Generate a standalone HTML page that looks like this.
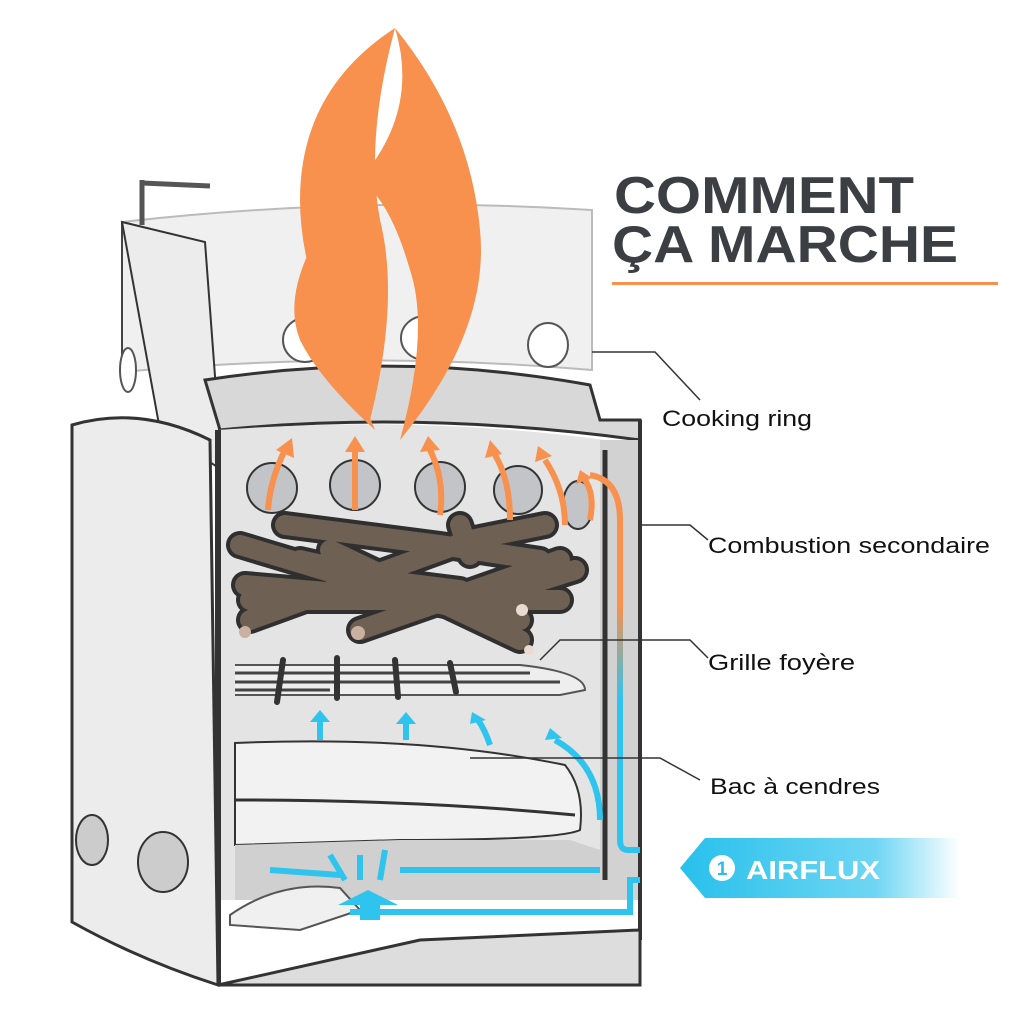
<!DOCTYPE html>
<html><head><meta charset="utf-8"><style>
body{margin:0;background:#fff}
svg{display:block}
text{font-family:"Liberation Sans",sans-serif}
</style></head><body>
<svg width="1024" height="1024" viewBox="0 0 1024 1024">
<defs>
<linearGradient id="af" x1="0" x2="1" y1="0" y2="0">
<stop offset="0" stop-color="#27c0ec"/><stop offset="0.7" stop-color="#6fd6f3"/><stop offset="1" stop-color="#fff"/>
</linearGradient>
<linearGradient id="up" x1="0" x2="0" y1="0" y2="1">
<stop offset="0.35" stop-color="#f7914d"/><stop offset="0.6" stop-color="#2ec4ee"/>
</linearGradient>
</defs>
<!-- cooking ring -->
<path d="M122 222 Q360 195 592 210 L592 370 Q360 350 122 372 Z" fill="#f0f0f0" stroke="#bbb" stroke-width="2"/>
<path d="M122 222 L122 372" stroke="#444" stroke-width="2"/>
<g fill="#fff" stroke="#555" stroke-width="2">
<ellipse cx="173" cy="380" rx="16" ry="28"/><ellipse cx="305" cy="340" rx="22" ry="22"/><ellipse cx="425" cy="338" rx="24" ry="22"/><ellipse cx="548" cy="345" rx="20" ry="22"/><ellipse cx="128" cy="370" rx="8" ry="22"/>
</g>
<path d="M142 180 L142 225 M142 183 L210 186" stroke="#555" stroke-width="5" fill="none"/>
<path d="M122 222 L205 242 L222 470 L160 430 Z" fill="#ececec" stroke="#333" stroke-width="2"/>
<!-- cooking ring lower band -->
<path d="M205 380 Q400 350 590 385 L600 420 L640 420 L640 440 Q420 410 220 430 Z" fill="#d8d8d8" stroke="#333" stroke-width="3"/>
<!-- interior -->
<path d="M218 430 Q420 415 605 440 L605 900 L218 900 Z" fill="#e4e4e4"/>
<path d="M218 430 L218 985" stroke="#333" stroke-width="6"/>
<!-- holes -->
<g fill="#c2c4c8" stroke="#333" stroke-width="2">
<circle cx="272" cy="488" r="25"/><circle cx="355" cy="485" r="25"/><circle cx="440" cy="487" r="25"/><circle cx="518" cy="490" r="24"/><ellipse cx="578" cy="505" rx="15" ry="24"/>
</g>
<!-- right wall -->
<rect x="600" y="440" width="40" height="460" fill="#d2d2d2"/>
<path d="M605 450 L605 880" stroke="#333" stroke-width="5"/>
<path d="M640 420 L640 940" stroke="#333" stroke-width="4"/>
<!-- wood -->
<g stroke="#2f2f2f" stroke-width="28" stroke-linecap="round" fill="none">
<path d="M245 585 L420 600 L520 620"/><path d="M240 545 L340 575 L460 590"/><path d="M285 525 L440 545 L540 560"/><path d="M360 630 L560 560"/><path d="M250 620 L470 540 L545 525"/><path d="M300 560 L480 600 L575 570"/><path d="M460 525 L470 555"/><path d="M330 550 L520 640"/><path d="M250 600 L560 600"/>
</g>
<g stroke="#6e6154" stroke-width="20" stroke-linecap="round" fill="none">
<path d="M245 585 L420 600 L520 620"/><path d="M240 545 L340 575 L460 590"/><path d="M285 525 L440 545 L540 560"/><path d="M360 630 L560 560"/><path d="M250 620 L470 540 L545 525"/><path d="M300 560 L480 600 L575 570"/><path d="M460 525 L470 555"/><path d="M330 550 L520 640"/><path d="M250 600 L560 600"/>
</g>
<circle cx="245" cy="632" r="6" fill="#c9b0a0"/><circle cx="358" cy="633" r="7" fill="#c9b0a0"/><circle cx="522" cy="610" r="6" fill="#eadbd0"/><circle cx="529" cy="650" r="5" fill="#eadbd0"/>
<!-- grille -->
<path d="M235 665 L520 665 Q585 672 585 690 L560 695 L235 695" fill="#eee" stroke="#555" stroke-width="2"/>
<g stroke="#444" stroke-width="3"><path d="M235 673 L530 673 M235 682 L560 682 M235 690 L330 690"/></g>
<g stroke="#333" stroke-width="6" stroke-linecap="round"><path d="M283 660 L277 702 M337 658 L337 698 M395 660 L398 697 M450 663 L456 692"/></g>
<!-- ash tray -->
<path d="M235 743 Q420 735 565 765 Q585 790 580 830 Q560 840 400 840 L235 845 Z" fill="#f2f2f2" stroke="#333" stroke-width="2"/>
<path d="M235 800 Q420 800 575 815" stroke="#333" stroke-width="3" fill="none"/>
<path d="M235 845 L400 840 L570 840 L600 850 L600 900 L235 900 Z" fill="#d0d0d0"/>
<path d="M230 915 Q280 880 340 888 L360 910 L300 930 L230 925 Z" fill="#f0f0f0" stroke="#555" stroke-width="2"/>
<!-- blue arrows -->
<g stroke="#2ec4ee" stroke-width="6" fill="none">
<path d="M320 740 L320 720"/><path d="M406 740 L406 722"/><path d="M490 745 Q485 730 478 720"/><path d="M600 820 Q600 765 555 740"/>
<path d="M640 850 L628 850 Q620 850 620 840 L620 520 Q620 480 590 475" stroke="url(#up)"/>
<path d="M640 880 L630 880 L630 912 L350 912"/>
<path d="M600 870 L400 870 M270 870 L340 875 M330 855 L345 880 M360 855 L360 880 M385 850 L380 880"/>
</g>
<g fill="#2ec4ee"><path d="M310 722 L320 710 L330 722Z"/><path d="M396 724 L406 712 L416 724Z"/><path d="M470 724 L472 712 L486 720Z"/><path d="M545 740 L550 728 L562 738Z"/><path d="M338 905 L368 890 L398 905 L380 905 L380 920 L360 920 L360 905Z"/></g>
<!-- outer shell -->
<path d="M72 425 Q140 405 210 440 L218 985 Q140 960 72 922 Z" fill="#ececec" stroke="#333" stroke-width="3"/>
<path d="M218 985 L640 985 L640 930 L420 940 Z" fill="#ddd" stroke="#333" stroke-width="3"/>
<ellipse cx="92" cy="840" rx="16" ry="25" fill="#ccc" stroke="#333" stroke-width="2"/>
<ellipse cx="163" cy="862" rx="25" ry="30" fill="#ccc" stroke="#333" stroke-width="2"/>
<!-- orange arrows -->
<g stroke="#f7914d" stroke-width="6" fill="none">
<path d="M268 510 Q270 480 285 450"/><path d="M355 510 L355 450"/><path d="M440 515 Q445 480 430 450"/><path d="M510 520 Q510 480 495 455"/><path d="M565 525 Q565 490 545 460"/><path d="M590 520 Q595 495 585 480"/>
</g>
<g fill="#f7914d"><path d="M276 450 L292 438 L294 458Z"/><path d="M345 452 L355 436 L365 452Z"/><path d="M420 452 L428 436 L440 450Z"/><path d="M485 458 L490 440 L502 454Z"/><path d="M535 462 L538 446 L552 456Z"/><path d="M576 484 L580 470 L592 478Z"/></g>
<!-- flame -->
<path d="M395 28 Q300 90 300 200 Q300 290 370 420 Q400 300 380 220 Q365 140 395 28Z" fill="#f7914d"/>
<path d="M395 28 Q470 120 480 230 Q490 330 400 440 Q430 330 410 270 Q390 200 360 180 Q420 110 395 28Z" fill="#f7914d"/>
<path d="M330 215 Q280 290 300 340 Q320 380 375 430 Q340 350 330 215Z" fill="#f7914d"/>
<!-- title -->
<text x="614" y="213" font-size="52" font-weight="bold" fill="#3b3e43" textLength="300" lengthAdjust="spacingAndGlyphs">COMMENT</text>
<text x="612" y="262" font-size="52" font-weight="bold" fill="#3b3e43" textLength="346" lengthAdjust="spacingAndGlyphs">ÇA MARCHE</text>
<rect x="612" y="282" width="386" height="3" fill="#f7914d"/>
<!-- leaders -->
<g stroke="#333" stroke-width="1.5" fill="none">
<path d="M592 352 L655 352 L700 400"/><path d="M640 525 L690 525 L708 540"/><path d="M540 660 L560 640 L690 640 L708 658"/><path d="M470 758 L660 758 L700 780"/>
</g>
<g font-size="22" fill="#111">
<text x="662" y="426" textLength="150" lengthAdjust="spacingAndGlyphs">Cooking ring</text>
<text x="708" y="553" textLength="282" lengthAdjust="spacingAndGlyphs">Combustion secondaire</text>
<text x="708" y="670" textLength="147" lengthAdjust="spacingAndGlyphs">Grille foyère</text>
<text x="710" y="794" textLength="170" lengthAdjust="spacingAndGlyphs">Bac à cendres</text>
</g>
<!-- airflux -->
<path d="M680 868 L705 838 L960 838 L960 898 L705 898 Z" fill="url(#af)"/>
<circle cx="722" cy="868" r="13" fill="#fff"/>
<text x="722" y="875" font-size="19" font-weight="bold" fill="#27c0ec" text-anchor="middle">1</text>
<text x="746" y="879" font-size="26" font-weight="bold" fill="#fff" textLength="134" lengthAdjust="spacingAndGlyphs">AIRFLUX</text>
</svg>
</body></html>
